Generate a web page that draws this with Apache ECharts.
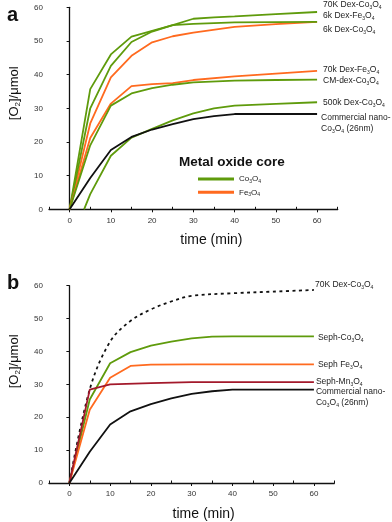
<!DOCTYPE html>
<html><head><meta charset="utf-8">
<script src="https://cdn.jsdelivr.net/npm/echarts@6/dist/echarts.min.js"></script>
<style>html,body{margin:0;padding:0;background:#fff}#c{width:392px;height:522px}</style>
</head><body><div id="c"></div>
<script>
// ---- Panel a data: [time (min), O2 (umol)] ----
const a_co70k = [[0,0],[5,35.7],[10,46],[15,51.3],[20,53],[25,54.7],[30,56.6],[35,57],[40,57.3],[50,58],[60,58.6]];
const a_fe6k  = [[0,0],[5,25.5],[10,39.2],[15,45.6],[20,49.6],[25,51.4],[30,52.5],[40,54.2],[50,55],[60,55.7]];
const a_co6k  = [[0,0],[5,30],[10,42.6],[15,49.7],[20,52.8],[25,54.7],[30,55.1],[40,55.5],[50,55.6],[60,55.7]];
const a_fe70k = [[0,0],[5,21.2],[10,31.4],[15,36.6],[20,37.2],[25,37.5],[30,38.4],[40,39.5],[50,40.3],[60,41.1]];
const a_cm    = [[0,0],[5,19],[10,30.8],[15,34.4],[20,36],[25,37],[30,37.7],[40,38.2],[50,38.4],[60,38.5]];
const a_co500k= [[3.5,0],[5,4.5],[10,15.9],[15,21.3],[20,23.9],[25,26.4],[30,28.5],[35,30],[40,30.8],[50,31.3],[60,31.8]];
const a_comm  = [[0,0],[5,9.3],[10,17.6],[15,21.5],[20,23.7],[25,25.3],[30,26.8],[35,27.7],[40,28.3],[50,28.3],[60,28.3]];
// ---- Panel b data ----
const b_co70k = [[0,0],[5,28.5],[10,43],[15,49.3],[20,52.8],[25,55.2],[30,56.9],[40,57.7],[50,58.2],[60,58.7]];
const b_sephCo= [[0,0],[5,25.4],[10,36.4],[15,39.8],[20,41.8],[25,43],[30,44],[35,44.5],[40,44.6],[50,44.6],[60,44.6]];
const b_sephFe= [[0,0],[5,22.3],[10,32],[15,35.6],[20,36],[30,36.1],[40,36.1],[60,36.1]];
const b_sephMn= [[0,0],[5,28.4],[10,30],[20,30.4],[30,30.7],[60,30.7]];
const b_comm  = [[0,0],[5,9.5],[10,17.8],[15,21.8],[20,24],[25,25.7],[30,27.1],[35,27.9],[40,28.4],[50,28.4],[60,28.4]];
// ---- axes ----
const xMajor = [0,10,20,30,40,50,60];
const xMinor = [-5,5,15,25,35,45,55,65];
const legendNames = ['Co3O4','Fe3O4'];

const GREEN='#5f9b0c', ORANGE='#ff6a1f', BLACK='#111', RED='#a3192b';
const FONT='Arial, "Liberation Sans", Helvetica, sans-serif';
const rich = {
  n:{fontSize:8.5,lineHeight:11,color:'#222',fontFamily:FONT},
  s:{fontSize:5,lineHeight:5,verticalAlign:'bottom',color:'#222',fontFamily:FONT}
};
const CO='{n|Co}{s|3}{n|O}{s|4}', FE='{n|Fe}{s|3}{n|O}{s|4}', MN='{n|Mn}{s|3}{n|O}{s|4}';

function ser(name, data, color, grid, lab, opts){
  return Object.assign({type:'line', name:name, data:data, xAxisIndex:grid, yAxisIndex:grid, showSymbol:false, symbol:'none',
    lineStyle:{color:color,width:1.8}, itemStyle:{color:color}, emphasis:{disabled:true}, silent:true, animation:false, z:3,
    endLabel:{show:true, distance:0, offset:[lab.dist, lab.dy], align:'left', verticalAlign:'middle', formatter:()=>lab.text, rich:rich}}, opts||{});
}

function xAx(grid){ return {type:'value', gridIndex:grid, min:-5, max:65, position:'bottom',
  axisLine:{lineStyle:{color:'#111',width:1.3}}, splitLine:{show:false},
  axisTick:{customValues:xMajor,length:3,lineStyle:{color:'#111',width:1}},
  axisLabel:{customValues:xMajor,fontSize:8,color:'#333',fontFamily:FONT,margin:7},
  name:'time (min)', nameLocation:'middle', nameGap:24,
  nameTextStyle:{fontSize:14,color:'#111',fontFamily:FONT,padding:[0,0,0,grid===0?36:24]}}; }
function xMin(grid){ return {type:'value', gridIndex:grid, min:-5, max:65, position:'bottom',
  axisLine:{show:false}, splitLine:{show:false}, axisLabel:{show:false},
  axisTick:{customValues:xMinor,inside:true,length:2.5,lineStyle:{color:'#111',width:1}}}; }
function yAx(grid){ return {type:'value', gridIndex:grid, min:0, max:60, interval:10,
  axisLine:{show:true,lineStyle:{color:'#111',width:1.3}}, splitLine:{show:false},
  axisTick:{show:true,length:3,lineStyle:{color:'#111'}},
  axisLabel:{fontSize:8,color:'#333',fontFamily:FONT,margin:6},
  name:'{a|[O}{b|2}{a|]/μmol}', nameLocation:'middle', nameGap:27, nameRotate:90,
  nameTextStyle:{padding:[0,0,0,grid===0?30:46], rich:{a:{fontSize:13,color:'#111',fontFamily:FONT,lineHeight:15},b:{fontSize:8,color:'#111',fontFamily:FONT,lineHeight:8,verticalAlign:'bottom'}}}}; }

const option = {
  backgroundColor:'#fff', animation:false,
  grid:[{left:46,top:7.3,width:291.7,height:202},{left:42.7,top:285.7,width:291.6,height:201}],
  xAxis:[xAx(0),xAx(1),xMin(0),xMin(1)],
  yAxis:[yAx(0),yAx(1)],
  title:[
    {text:'a',left:2,top:0,textStyle:{fontSize:20,fontWeight:'bold',color:'#111',fontFamily:FONT}},
    {text:'b',left:2,top:268,textStyle:{fontSize:20,fontWeight:'bold',color:'#111',fontFamily:FONT}},
    {text:'Metal oxide core',left:174,top:150,textStyle:{fontSize:13.5,fontWeight:'bold',color:'#111',fontFamily:FONT}}
  ],
  legend:{data:legendNames, left:193, top:169, orient:'vertical', icon:'rect', itemWidth:36, itemHeight:3, itemGap:3.3,
    selectedMode:false, textStyle:{fontSize:8,lineHeight:10,rich:{n:{fontSize:8,color:'#222',fontFamily:FONT,lineHeight:10},s:{fontSize:5,lineHeight:5,verticalAlign:'bottom',color:'#222',fontFamily:FONT}}},
    formatter:(n)=> n==='Co3O4' ? '{n|Co}{s|3}{n|O}{s|4}' : '{n|Fe}{s|3}{n|O}{s|4}'},
  series:[
    ser('Co3O4',a_co70k,GREEN,0,{dist:6,dy:-7,text:'{n|70K Dex-}'+CO}),
    ser('Fe3O4',a_fe6k,ORANGE,0,{dist:6,dy:-6,text:'{n|6k Dex-}'+FE}),
    ser('Co3O4',a_co6k,GREEN,0,{dist:6,dy:8,text:'{n|6k Dex-}'+CO}),
    ser('Fe3O4',a_fe70k,ORANGE,0,{dist:6,dy:-1,text:'{n|70k Dex-}'+FE}),
    ser('Co3O4',a_cm,GREEN,0,{dist:6,dy:1,text:'{n|CM-dex-}'+CO}),
    ser('Co3O4',a_co500k,GREEN,0,{dist:6,dy:0,text:'{n|500k Dex-}'+CO}),
    ser('Commercial',a_comm,BLACK,0,{dist:4,dy:9,text:'{n|Commercial nano-}\n'+CO+'{n| (26nm)}'}),
    ser('70K Dex',b_co70k,BLACK,1,{dist:1,dy:-5,text:'{n|70K Dex-}'+CO},{smooth:0.35,lineStyle:{color:BLACK,width:1.8,type:[3,3.5]}}),
    ser('Co3O4',b_sephCo,GREEN,1,{dist:4,dy:1,text:'{n|Seph-}'+CO}),
    ser('Fe3O4',b_sephFe,ORANGE,1,{dist:4,dy:0,text:'{n|Seph }'+FE}),
    ser('Mn',b_sephMn,RED,1,{dist:2,dy:0,text:'{n|Seph-}'+MN}),
    ser('Commercial',b_comm,BLACK,1,{dist:2,dy:8,text:'{n|Commercial nano-}\n'+CO+'{n| (26nm)}'})
  ]
};
const chart = echarts.init(document.getElementById('c'),null,{renderer:'canvas'});
chart.setOption(option);
</script></body></html>
